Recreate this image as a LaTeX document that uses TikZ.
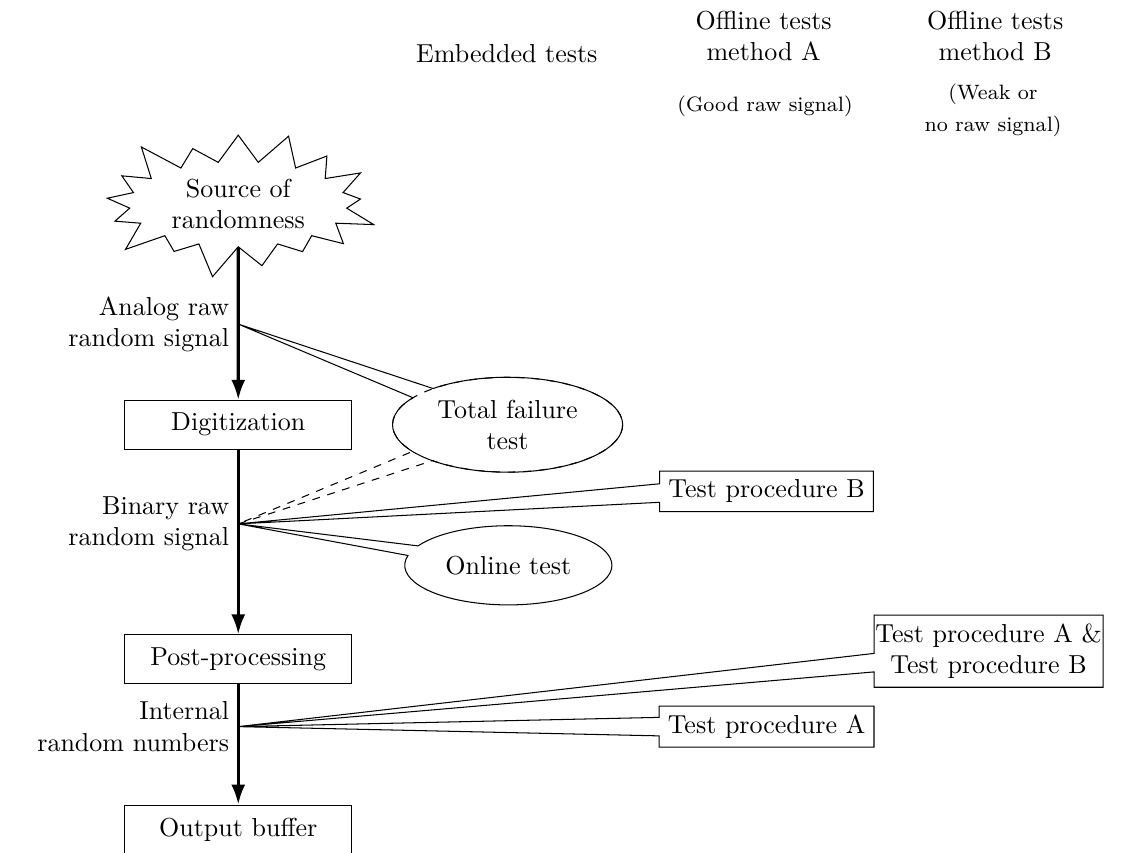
\documentclass[tikz,border=0pt]{standalone}
\usepackage{tikz}
\usetikzlibrary{positioning}
\usetikzlibrary{arrows.meta}
\usetikzlibrary{shapes.geometric,shapes.symbols,shapes.callouts}

\begin{document}
\begin{tikzpicture}[>={Latex[length=2.7mm,width=1.9mm]},
    stage/.style={rectangle, draw, minimum width=3.07cm, minimum height=0.66cm},
    flow/.style={->, line width=1.2pt},
    sideLabel/.style={left, align=right},
    testBubble/.style={ellipse callout, draw, align=center},
    testBox/.style={rectangle callout, draw, align=center, callout pointer width=0.25cm}]
    \useasboundingbox (0,0) rectangle (15.15,-11.527);

    % the column headers
    \node at (6.85,-0.72) (embeddedHead) {Embedded tests};
    \node[align=center] at (10.32,-0.49) (methodAHead) {Offline tests\\method A};
    \node[align=center] at (13.45,-0.49) (methodBHead) {Offline tests\\method B};
    \node[font=\footnotesize] at (10.34,-1.43) (methodANote) {(Good raw signal)};
    \node[font=\footnotesize, align=center] at (13.42,-1.49) (methodBNote) {(Weak or\\[2.5pt]no raw signal)};

    % the processing chain
    \node[starburst, draw, align=center, inner ysep=2pt, inner xsep=4pt,
    starburst point height=0.5cm] at (3.22,-2.76) (source) {Source of\\randomness};
    \node[stage] at (3.22,-5.74) (digit) {Digitization};
    \node[stage] at (3.22,-8.91) (post) {Post-processing};
    \node[stage] at (3.22,-11.21) (output) {Output buffer};

    \draw[flow] (source) -- (digit);
    \draw[flow] (digit) -- (post);
    \draw[flow] (post) -- (output);

    % the tapping points and their labels
    \coordinate (analogPt) at (3.22,-4.38);
    \coordinate (binaryPt) at (3.22,-7.08);
    \coordinate (internalPt) at (3.22,-9.82);
    \node[sideLabel] at (analogPt) (analogLbl) {Analog raw\\random signal};
    \node[sideLabel] at (binaryPt) (binaryLbl) {Binary raw\\random signal};
    \node[sideLabel] at (internalPt) (internalLbl) {Internal\\random numbers};

    % the tests
    \node[testBubble, dashed, minimum width=3.11cm, minimum height=1.28cm,
    callout absolute pointer={(binaryPt)}] at (6.86,-5.74) (failDashed) {};
    \node[testBubble, minimum width=3.11cm, minimum height=1.28cm,
    callout absolute pointer={(analogPt)}] at (6.86,-5.74) (failTest) {Total failure\\test};
    \node[testBubble, minimum width=2.8cm, minimum height=1.07cm,
    callout absolute pointer={(binaryPt)}] at (6.87,-7.64) (onlineTest) {Online test};
    \node[testBox, callout absolute pointer={(binaryPt)}] at (10.36,-6.64) (procB) {Test procedure B};
    \node[testBox, inner xsep=0.5pt, callout absolute pointer={(internalPt)}] at (13.36,-8.80) (procAB) {Test procedure A \&\\Test procedure B};
    \node[testBox, callout absolute pointer={(internalPt)}] at (10.36,-9.82) (procA) {Test procedure A};
\end{tikzpicture}
\end{document}
